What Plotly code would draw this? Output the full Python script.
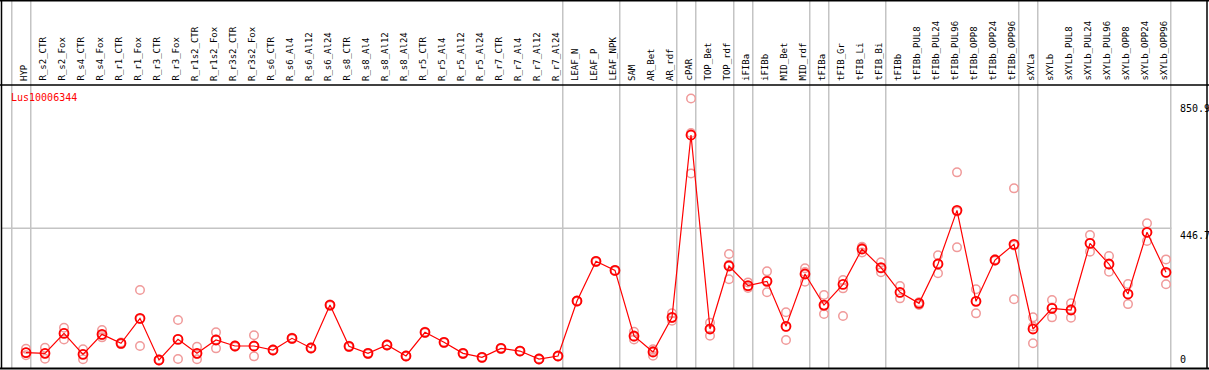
import plotly.graph_objects as go

W, H = 1209, 370

categories = ["HYP", "R_s2_CTR", "R_s2_Fox", "R_s4_CTR", "R_s4_Fox", "R_r1_CTR", "R_r1_Fox",
              "R_r3_CTR", "R_r3_Fox", "R_r1s2_CTR", "R_r1s2_Fox", "R_r3s2_CTR", "R_r3s2_Fox",
              "R_s6_CTR", "R_s6_Al4", "R_s6_Al12", "R_s6_Al24", "R_s8_CTR", "R_s8_Al4",
              "R_s8_Al12", "R_s8_Al24", "R_r5_CTR", "R_r5_Al4", "R_r5_Al12", "R_r5_Al24",
              "R_r7_CTR", "R_r7_Al4", "R_r7_Al12", "R_r7_Al24", "LEAF_N", "LEAF_P", "LEAF_NPK",
              "SAM", "AR_Bet", "AR_rdf", "cPAR", "TOP_Bet", "TOP_rdf", "iFIBa", "iFIBb",
              "MID_Bet", "MID_rdf", "tFIBa", "tFIB_Gr", "tFIB_Li", "tFIB_Bi", "tFIBb",
              "tFIBb_PUL8", "tFIBb_PUL24", "tFIBb_PUL96", "tFIBb_OPP8", "tFIBb_OPP24",
              "tFIBb_OPP96", "sXYLa", "sXYLb", "sXYLb_PUL8", "sXYLb_PUL24", "sXYLb_PUL96",
              "sXYLb_OPP8", "sXYLb_OPP24", "sXYLb_OPP96"]

mean_vals = [51.8, 49.7, 113, 46.6, 110, 81.5, 160.8, 28.6, 94, 49.7,
             92, 73, 73, 60.3, 97.4, 66.7, 203, 72, 49.7, 76.2,
             41.3, 116.4, 84.7, 49.7, 37, 65.6, 57, 31.7, 41.3, 215.9,
             341.8, 313, 104.8, 54, 164, 742.9, 127, 327, 264.6, 278.3,
             135.4, 301.6, 203, 268.8, 381, 321.7, 243.4, 208.5, 333.3, 503.7,
             214.8, 346, 395.7, 127, 192.6, 187.3, 399, 333.3, 238, 434, 307]

rep_high = [64, 67.7, 131, 62.4, 123.8, 84, 250.8, 30, 155.5, 70.9,
            116.4, 75, 106.9, 62, 99, 68, 205, 74, 51, 78,
            43, 118, 86, 51, 38, 67, 58, 33, 42, 217,
            343, 314, 118.5, 62.4, 176.7, 859, 147, 365, 275, 310,
            180, 319.6, 235, 282.5, 388.3, 338.6, 263.5, 212, 361, 624.3,
            253, 348, 573.5, 164, 219, 208.5, 425.4, 358.7, 270, 462.5, 348]

rep_mid = [52, 49, 114, 47, 107, 81, 159, 29, 95, 48,
           94, 73, 72, 60, 98, 67, 203, 72, 50, 76,
           41, 116, 85, 50, 37, 66, 57, 32, 41, 216,
           342, 313, 102, 57, 162, 749, 128, 331, 262, 280,
           134, 308, 199, 256, 385, 319, 242, 210, 335, 500,
           215, 346, 392, 135, 195, 190, 399, 332, 238, 433, 304]

rep_low = [44, 32.8, 94, 30.7, 100.5, 79, 73, 27, 31.7, 30.7,
           65.6, 71, 40.2, 58.5, 95.5, 65, 201, 70, 48, 74.5,
           39.5, 115, 83, 48, 35.5, 64, 55.5, 30, 40, 214,
           340, 311.5, 94, 42.3, 153.4, 621, 105.8, 284.7, 257, 243.4,
           92, 277, 174.6, 168, 370, 307, 224.3, 203, 303.7, 386.2,
           176.7, 344, 221.2, 81.5, 164, 163, 372.5, 309, 206, 406.3, 269]

y_tick_vals = [0, 446.7, 850.9]
y_tick_text = ["0", "446.7", "850.9"]
group_ends = [-1, 0, 28, 31, 34, 35, 37, 38, 41, 42, 45, 52, 53, 60]
gene_name = "Lus10006344"

RED = "#ff0000"
PINK = "#f09a9a"
GRAY = "#c4c4c4"
FONT = "DejaVu Sans Mono"

def py(p):
    return 1 - p / H

def px(p):
    return p / W

fig = go.Figure()

rep_x = categories * 3
rep_y = rep_high + rep_mid + rep_low
fig.add_trace(go.Scatter(x=rep_x, y=rep_y, mode="markers",
                         marker=dict(symbol="circle-open", size=8.5, color=PINK,
                                     line=dict(width=1.5, color=PINK)),
                         hoverinfo="skip", showlegend=False))
fig.add_trace(go.Scatter(x=categories, y=mean_vals, mode="lines+markers",
                         line=dict(color=RED, width=1.2),
                         marker=dict(symbol="circle-open", size=9, color=RED,
                                     line=dict(width=1.8, color=RED)),
                         showlegend=False))

shapes = []
for g in group_ends:
    shapes.append(dict(type="line", xref="x", yref="paper", x0=g + 0.25, x1=g + 0.25,
                       y0=py(0), y1=py(369), line=dict(color=GRAY, width=1.5), layer="below"))
shapes.append(dict(type="line", xref="paper", yref="y", x0=px(1), x1=px(1171.5),
                   y0=y_tick_vals[1], y1=y_tick_vals[1], line=dict(color=GRAY, width=1.5), layer="below"))
shapes.append(dict(type="line", xref="paper", yref="paper", x0=px(0), x1=px(1209),
                   y0=py(85), y1=py(85), line=dict(color="black", width=1.5)))
shapes.append(dict(type="line", xref="paper", yref="paper", x0=px(1.5), x1=px(1.5),
                   y0=py(0), y1=py(369), line=dict(color="black", width=1.5)))
shapes.append(dict(type="line", xref="paper", yref="paper", x0=px(1207), x1=px(1207),
                   y0=py(0), y1=py(369), line=dict(color="black", width=1.5)))
shapes.append(dict(type="line", xref="paper", yref="paper", x0=px(0), x1=px(1209),
                   y0=py(0.7), y1=py(0.7), line=dict(color="black", width=1.5)))
shapes.append(dict(type="line", xref="paper", yref="paper", x0=px(0), x1=px(1209),
                   y0=py(368.5), y1=py(368.5), line=dict(color="black", width=2)))

annotations = []
for i, c in enumerate(categories):
    annotations.append(dict(x=i - 0.13, xref="x", y=py(83), yref="paper", text=c,
                            textangle=-90, showarrow=False, xanchor="center", yanchor="bottom",
                            font=dict(family=FONT, size=9, color="black")))
annotations.append(dict(x=px(8.5), xref="paper", y=py(97), yref="paper", text=gene_name,
                        showarrow=False, xanchor="left", yanchor="middle",
                        font=dict(family=FONT, size=10, color=RED)))
for v, t in zip(y_tick_vals, y_tick_text):
    if v == 0:
        annotations.append(dict(x=px(1178), xref="paper", y=v, yref="y", text=t,
                                showarrow=False, xanchor="left", yanchor="bottom", yshift=2,
                                font=dict(family=FONT, size=10, color="black")))
    else:
        annotations.append(dict(x=px(1177.5), xref="paper", y=v, yref="y", text=t,
                                showarrow=False, xanchor="left", yanchor="top",
                                font=dict(family=FONT, size=10, color="black")))

fig.update_layout(
    width=W, height=H, margin=dict(l=0, r=0, t=0, b=0),
    paper_bgcolor="white", plot_bgcolor="white",
    xaxis=dict(type="category", categoryorder="array", categoryarray=categories,
               range=[-26 / 19, (W - 26) / 19], visible=False, domain=[0, 1]),
    yaxis=dict(range=[-1 / 0.315, 369 / 0.315], visible=False, domain=[0, 1]),
    shapes=shapes, annotations=annotations, showlegend=False,
)

fig.write_html("out.html", config={"displayModeBar": False},
               post_script="document.body.style.margin='0';document.body.style.padding='0';")
